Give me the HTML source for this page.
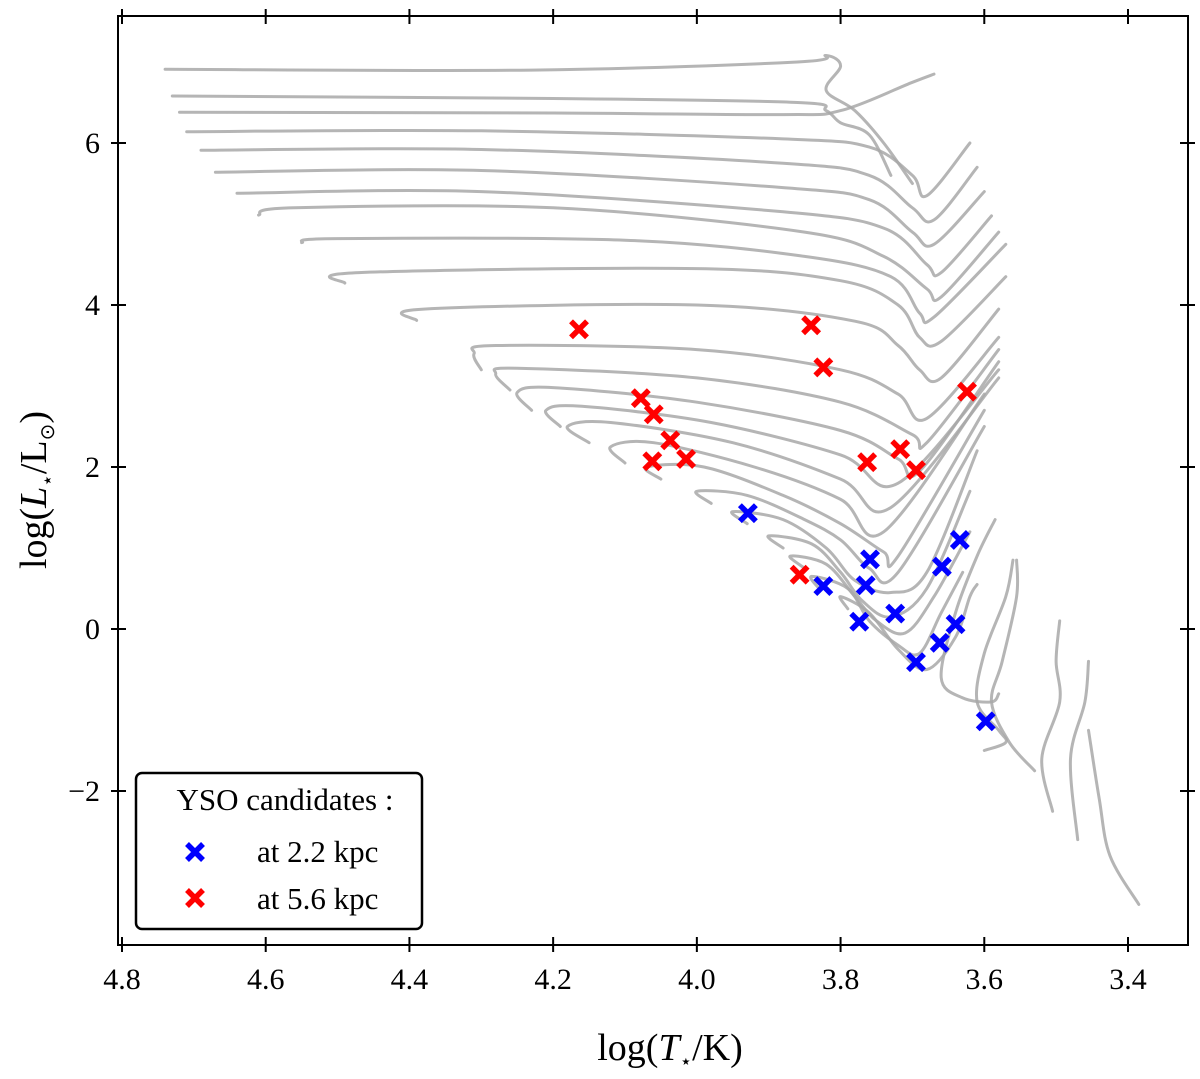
<!DOCTYPE html>
<html><head><meta charset="utf-8"><style>
body{margin:0;background:#fff;}
svg{display:block;font-family:"Liberation Serif",serif;}
</style></head><body>
<svg id="chart" width="1200" height="1079" viewBox="0 0 1200 1079" xmlns="http://www.w3.org/2000/svg">
<g id="tracks"></g>
<g id="marks"></g>
<rect x="118" y="16" width="1070" height="929" fill="none" stroke="#000" stroke-width="2"/>
<g id="axes"></g>
<text x="670" y="1060" font-size="38" text-anchor="middle">log(<tspan font-style="italic">T</tspan><tspan font-size="20" dy="8">⋆</tspan><tspan dy="-8">/K)</tspan></text>
<text transform="translate(46,490) rotate(-90)" font-size="38" text-anchor="middle">log(<tspan font-style="italic">L</tspan><tspan font-size="20" dy="8">⋆</tspan><tspan dy="-8">/L</tspan><tspan font-size="20" dy="8">⊙</tspan><tspan dy="-8">)</tspan></text>
<g>
<rect x="136" y="773" width="286" height="156" rx="6" fill="#fff" stroke="#000" stroke-width="2.5"/>
<text x="285" y="810" font-size="31" text-anchor="middle">YSO candidates :</text>
<g>
<path d="M187,844 L203,860 M203,844 L187,860" stroke="#0000ff" stroke-width="5.5"/>
<text x="257" y="862" font-size="31">at 2.2 kpc</text></g>
<g>
<path d="M187,890 L203,906 M203,890 L187,906" stroke="#ff0000" stroke-width="5.5"/>
<text x="257" y="909" font-size="31">at 5.6 kpc</text></g>
</g>
</svg>
<script>
const xTicks=[4.8,4.6,4.4,4.2,4.0,3.8,3.6,3.4];
const xTickLabels=["4.8","4.6","4.4","4.2","4.0","3.8","3.6","3.4"];
const yTicks=[-2,0,2,4,6];
const yTickLabels=["\u22122","0","2","4","6"];
const blueT=[3.929,3.759,3.824,3.765,3.774,3.724,3.695,3.662,3.640,3.659,3.634,3.598];
const blueL=[1.43,0.86,0.53,0.54,0.09,0.19,-0.41,-0.17,0.06,0.77,1.10,-1.14];
const redT=[4.164,3.841,3.824,3.624,4.078,4.060,4.037,4.062,4.015,3.763,3.717,3.695,3.857];
const redL=[3.70,3.75,3.23,2.93,2.85,2.65,2.33,2.07,2.10,2.06,2.22,1.96,0.67];
const tracks=[
[[4.74,6.91],[4.23,6.90],[3.86,7.0],[3.82,7.08],[3.80,6.95],[3.82,6.65],[3.78,6.4],[3.74,6.0],[3.70,5.5]],
[[4.73,6.58],[4.2,6.55],[3.86,6.5],[3.82,6.4],[3.80,6.25],[3.76,6.1],[3.73,5.6]],
[[4.72,6.38],[4.2,6.37],[3.88,6.35],[3.80,6.4],[3.70,6.75],[3.67,6.85]],
[[4.71,6.14],[4.3,6.15],[3.88,6.05],[3.76,5.95],[3.70,5.6],[3.68,5.35],[3.62,6.0]],
[[4.69,5.91],[4.3,5.92],[3.88,5.75],[3.76,5.6],[3.70,5.2],[3.67,5.05],[3.61,5.7]],
[[4.67,5.64],[4.3,5.66],[3.88,5.45],[3.76,5.3],[3.70,4.9],[3.67,4.75],[3.60,5.4]],
[[4.64,5.38],[4.3,5.4],[3.88,5.15],[3.74,4.95],[3.68,4.5],[3.66,4.4],[3.59,5.1]],
[[4.61,5.11],[4.56,5.2],[4.2,5.2],[3.85,4.9],[3.74,4.6],[3.68,4.2],[3.66,4.1],[3.58,4.9]],
[[4.55,4.77],[4.5,4.82],[4.1,4.8],[3.85,4.6],[3.73,4.35],[3.69,3.9],[3.67,3.85],[3.57,4.75]],
[[4.49,4.27],[4.47,4.4],[4.0,4.45],[3.80,4.3],[3.72,4.0],[3.69,3.6],[3.66,3.55],[3.57,4.35]],
[[4.39,3.81],[4.38,3.95],[4.0,4.0],[3.78,3.8],[3.72,3.5],[3.69,3.2],[3.66,3.1],[3.58,3.95]],
[[4.30,3.2],[4.31,3.4],[4.28,3.5],[4.0,3.45],[3.80,3.2],[3.72,2.9],[3.68,2.6],[3.58,3.6]],
[[4.26,2.95],[4.28,3.15],[4.25,3.22],[4.0,3.1],[3.80,2.8],[3.70,2.4],[3.68,2.3],[3.58,3.45]],
[[4.23,2.7],[4.25,2.92],[4.2,2.98],[4.0,2.8],[3.8,2.45],[3.72,2.1],[3.69,1.95],[3.58,3.3]],
[[4.19,2.5],[4.21,2.7],[4.16,2.75],[3.98,2.55],[3.8,2.15],[3.72,1.8],[3.58,3.2]],
[[4.15,2.3],[4.18,2.5],[4.12,2.55],[3.95,2.3],[3.80,1.85],[3.73,1.5],[3.58,3.1]],
[[4.10,2.05],[4.12,2.25],[4.06,2.3],[3.92,2.0],[3.80,1.6],[3.74,1.2],[3.60,2.9]],
[[4.05,1.85],[4.07,2.0],[3.99,2.0],[3.88,1.65],[3.80,1.3],[3.74,0.95],[3.72,0.9],[3.60,2.7]],
[[3.98,1.55],[4.0,1.7],[3.93,1.65],[3.85,1.35],[3.80,1.1],[3.76,0.75],[3.72,0.7],[3.60,2.5]],
[[3.93,1.3],[3.95,1.45],[3.88,1.35],[3.82,1.0],[3.78,0.6],[3.73,0.45],[3.68,0.7],[3.61,2.2]],
[[3.88,1.0],[3.90,1.15],[3.84,1.05],[3.80,0.7],[3.77,0.35],[3.73,0.15],[3.68,0.5],[3.62,1.7]],
[[3.85,0.75],[3.87,0.9],[3.82,0.8],[3.78,0.4],[3.75,0.1],[3.71,-0.05],[3.67,0.4],[3.62,1.2]],
[[3.83,0.5],[3.84,0.65],[3.79,0.5],[3.76,0.1],[3.72,-0.2],[3.69,-0.3],[3.66,0.2],[3.63,0.7]],
[[3.79,0.25],[3.80,0.4],[3.76,0.2],[3.72,-0.25],[3.68,-0.5],[3.64,-0.1],[3.62,0.4],[3.61,0.55]],
[[3.585,1.35],[3.61,0.9],[3.64,0.2],[3.66,-0.6],[3.63,-0.85],[3.59,-0.9],[3.58,-0.8]],
[[3.56,0.85],[3.57,0.4],[3.60,-0.3],[3.61,-0.9],[3.58,-1.25],[3.57,-1.4],[3.60,-1.5]],
[[3.555,0.85],[3.555,0.4],[3.575,-0.4],[3.59,-0.9],[3.565,-1.4],[3.53,-1.75]],
[[3.495,0.1],[3.50,-0.4],[3.495,-0.9],[3.52,-1.6],[3.505,-2.25]],
[[3.455,-0.4],[3.46,-0.9],[3.48,-1.6],[3.47,-2.6]],
[[3.455,-1.25],[3.44,-2.1],[3.425,-2.8],[3.385,-3.4]]
];
const NS='http://www.w3.org/2000/svg';
function xs(t){return 122+(4.8-t)/1.4*1006;}
function ys(l){return 629-l*81;}
function smoothPath(pts){
  const P=pts.map(d=>[xs(d[0]),ys(d[1])]);
  let d='M'+P[0][0].toFixed(1)+','+P[0][1].toFixed(1);
  for(let i=0;i<P.length-1;i++){
    const p0=P[Math.max(0,i-1)],p1=P[i],p2=P[i+1],p3=P[Math.min(P.length-1,i+2)];
    const c1=[p1[0]+(p2[0]-p0[0])/6,p1[1]+(p2[1]-p0[1])/6];
    const c2=[p2[0]-(p3[0]-p1[0])/6,p2[1]-(p3[1]-p1[1])/6];
    d+='C'+c1.map(v=>v.toFixed(1)).join(',')+' '+c2.map(v=>v.toFixed(1)).join(',')+' '+p2[0].toFixed(1)+','+p2[1].toFixed(1);
  }
  return d;
}
const gT=document.getElementById('tracks');
tracks.forEach((tr,i)=>{
  const p=document.createElementNS(NS,'path');
  p.setAttribute('d',smoothPath(tr));
  p.setAttribute('fill','none');p.setAttribute('stroke','#a8a8a8');p.setAttribute('stroke-width','3');
  p.setAttribute('stroke-linejoin','round');p.setAttribute('stroke-linecap','round');p.setAttribute('opacity','0.85');
  
  
  gT.appendChild(p);
});
const gM=document.getElementById('marks');
function cross(t,l,c,name){
  const x=xs(t),y=ys(l),s=8;
  const p=document.createElementNS(NS,'path');
  p.setAttribute('d',`M${x-s},${y-s}L${x+s},${y+s}M${x+s},${y-s}L${x-s},${y+s}`);
  p.setAttribute('stroke',c);p.setAttribute('stroke-width','5.5');
  
  
  gM.appendChild(p);
}
redT.forEach((t,i)=>cross(t,redL[i],'#ff0000','yso-5.6kpc-'+(i+1)));
blueT.forEach((t,i)=>cross(t,blueL[i],'#0000ff','yso-2.2kpc-'+(i+1)));
const gA=document.getElementById('axes');
function line(x1,y1,x2,y2,name){
  const l=document.createElementNS(NS,'line');
  l.setAttribute('x1',x1);l.setAttribute('y1',y1);l.setAttribute('x2',x2);l.setAttribute('y2',y2);
  l.setAttribute('stroke','#000');l.setAttribute('stroke-width','2');
  
  
  gA.appendChild(l);
}
function txt(x,y,s,anchor,name){
  const t=document.createElementNS(NS,'text');
  t.setAttribute('x',x);t.setAttribute('y',y);t.setAttribute('font-size','30');t.setAttribute('text-anchor',anchor);
  t.textContent=s;
  
  
  gA.appendChild(t);
}
xTicks.forEach((v,i)=>{
  const x=xs(v);
  line(x,945,x,937,'x-tick');line(x,16,x,24,'x-tick-top');
  line(x,945,x,952,'x-tick-out');line(x,16,x,9,'x-tick-top-out');
  txt(x,989,xTickLabels[i],'middle','x-tick-label');
});
yTicks.forEach((v,i)=>{
  const y=ys(v);
  line(118,y,126,y,'y-tick');line(1188,y,1180,y,'y-tick-right');
  line(118,y,111,y,'y-tick-out');line(1188,y,1195,y,'y-tick-right-out');
  txt(100,y+10,yTickLabels[i],'end','y-tick-label');
});
</script>
</body></html>
